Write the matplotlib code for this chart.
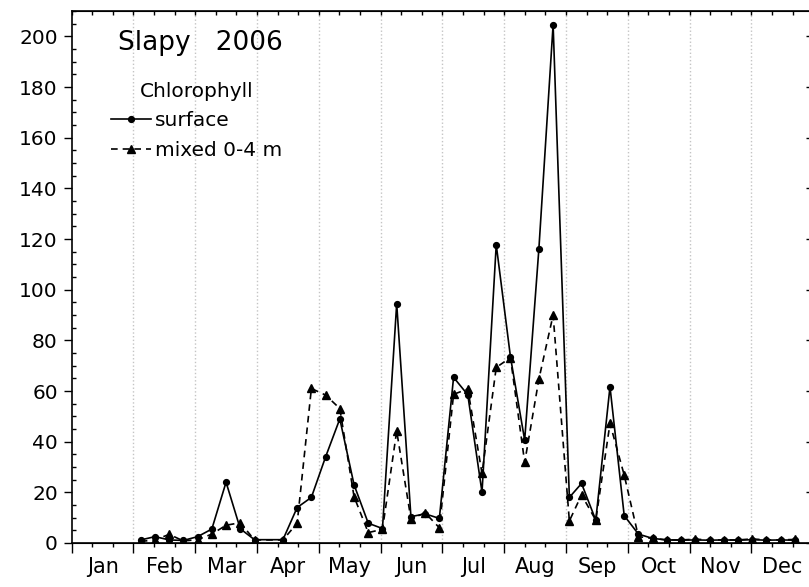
import matplotlib
matplotlib.use("Agg")
import matplotlib.pyplot as plt
import numpy as np

# sampling days (day of year, 0 = 1 Jan 2006)
days = [34, 41, 48, 55, 62, 69, 76, 83, 90,
        104, 111, 118, 125, 132, 139, 146, 153, 160, 167,
        174, 181, 188, 195, 202, 209, 216, 223, 230, 237,
        245, 251, 258, 265, 272, 279, 286, 293, 300, 307,
        314, 321, 328, 335, 342, 349, 356]

surface = [1.2, 2.5, 1.2, 1.0, 2.5, 5.5, 24.0, 5.6, 1.3,
           1.3, 14.0, 18.0, 34.0, 49.0, 23.0, 7.8, 5.7, 94.5, 10.4,
           11.5, 9.7, 65.4, 58.5, 20.0, 117.8, 73.5, 40.6, 116.2, 204.7,
           18.0, 23.5, 9.0, 61.7, 10.8, 3.5, 1.8, 1.2, 1.1, 1.2,
           1.1, 1.2, 1.1, 1.3, 1.1, 1.2, 1.1]

mixed = [0.6, 1.2, 3.4, 0.8, 1.3, 3.5, 7.0, 8.0, 1.2,
         1.2, 7.8, 61.0, 58.4, 53.1, 18.3, 4.1, 5.4, 44.2, 9.5,
         11.9, 6.0, 58.7, 60.8, 27.5, 69.3, 73.2, 31.8, 64.7, 90.0,
         8.7, 19.0, 9.0, 47.2, 26.8, 2.5, 1.8, 1.2, 1.2, 1.5,
         1.2, 1.2, 1.2, 1.6, 1.2, 1.2, 1.4]

months = ["Jan", "Feb", "Mar", "Apr", "May", "Jun",
          "Jul", "Aug", "Sep", "Oct", "Nov", "Dec"]

mlen = 365 / 12.0
bounds = np.arange(13) * mlen
mids = bounds[:-1] + mlen / 2
thirds = [b + k * mlen / 3 for b in bounds[:-1] for k in (1, 2)]

fig = plt.figure(figsize=(8.09, 5.87), dpi=100)
ax = fig.add_axes([0.0886, 0.075, 0.9165, 0.906])

ax.plot(days, surface, color="black", lw=1.2, marker="o", ms=4.2,
        label="surface")
ax.plot(days, mixed, color="black", lw=1.2, ls=(0, (4, 3)), marker="^",
        ms=6, label="mixed 0-4 m")

ax.set_xlim(0, 365)
ax.set_ylim(0, 210)

for b in bounds[1:12]:
    ax.axvline(b, color="#c4c4c4", ls=":", lw=1, zorder=0)

# x axis: month boundaries as major ticks, labels at mid-month
ax.set_xticks(bounds)
ax.set_xticklabels([])
ax.set_xticks(mids, months, minor=True)
ax.tick_params(axis="x", which="major", direction="out", length=7, width=1)
ax.tick_params(axis="x", which="minor", length=0, pad=10, labelsize=15)

sub = ax.secondary_xaxis("bottom")
sub.set_xticks(thirds)
sub.set_xticklabels([])
sub.tick_params(direction="out", length=3, width=1)

top = ax.secondary_xaxis("top")
top.set_xticks(list(bounds) + thirds)
top.set_xticklabels([])
top.tick_params(direction="in", length=3, width=1)

ax.set_yticks(np.arange(0, 201, 20))
ax.set_yticks(np.arange(0, 211, 5), minor=True)
ax.tick_params(axis="y", which="major", direction="out", length=6,
               width=1, labelsize=14.5, pad=4)
ax.tick_params(axis="y", which="minor", direction="in", length=3, width=1)

right = ax.secondary_yaxis("right")
right.set_yticks(np.arange(0, 201, 20))
right.set_yticklabels([])
right.tick_params(direction="in", length=5, width=1)

for s in ax.spines.values():
    s.set_linewidth(1.2)

ax.text(0.062, 0.94, "Slapy   2006", transform=ax.transAxes,
        fontsize=19, va="center", ha="left")

leg = ax.legend(title="Chlorophyll", loc="upper left",
                bbox_to_anchor=(0.053, 0.866), frameon=False,
                fontsize=14.5, title_fontsize=14.5, handlelength=2.0,
                handletextpad=0.2, borderpad=0, borderaxespad=0,
                labelspacing=0.5)

fig.savefig("out.png", dpi=100)
